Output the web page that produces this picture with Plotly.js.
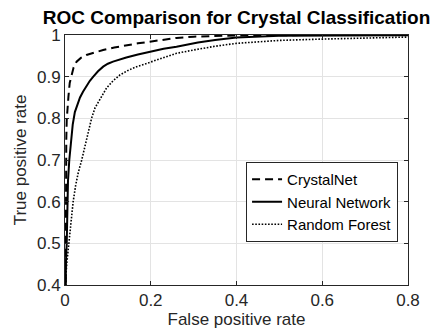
<!DOCTYPE html>
<html>
<head>
<meta charset="utf-8">
<script src="https://cdn.plot.ly/plotly-3.0.1.min.js"></script>
<style>html,body{margin:0;padding:0;background:#fff;}#chart{width:435px;height:329px;}</style>
</head>
<body>
<div id="chart"></div>
<script>
// CrystalNet
var crystalFpr = [0, 0.001, 0.002, 0.003, 0.004, 0.006, 0.008, 0.011, 0.0155, 0.02, 0.027, 0.037, 0.05, 0.068, 0.089, 0.115, 0.143, 0.17, 0.198, 0.23, 0.26, 0.3, 0.4, 0.6, 1.0];
var crystalTpr = [0, 0.5, 0.65, 0.75, 0.796, 0.83, 0.852, 0.885, 0.908, 0.922, 0.936, 0.945, 0.952, 0.958, 0.964, 0.97, 0.976, 0.98, 0.984, 0.989, 0.993, 0.996, 0.999, 1.0, 1.0];
// Neural Network
var nnFpr = [0, 0.002, 0.004, 0.005, 0.007, 0.01, 0.014, 0.018, 0.023, 0.029, 0.035, 0.042, 0.05, 0.058, 0.066, 0.077, 0.089, 0.1, 0.112, 0.127, 0.143, 0.17, 0.198, 0.23, 0.26, 0.31, 0.35, 0.4, 0.5, 0.7, 1.0];
var nnTpr = [0, 0.45, 0.5, 0.6, 0.65, 0.7, 0.75, 0.785, 0.815, 0.835, 0.85, 0.864, 0.878, 0.89, 0.9, 0.913, 0.924, 0.931, 0.936, 0.941, 0.946, 0.953, 0.96, 0.967, 0.972, 0.982, 0.988, 0.994, 0.998, 0.999, 1.0];
// Random Forest
var rfFpr = [0, 0.002, 0.004, 0.007, 0.01, 0.014, 0.019, 0.025, 0.031, 0.039, 0.048, 0.055, 0.062, 0.07, 0.081, 0.097, 0.112, 0.128, 0.147, 0.167, 0.185, 0.205, 0.23, 0.26, 0.3, 0.35, 0.4, 0.5, 0.593, 0.7, 0.786, 0.9, 1.0];
var rfTpr = [0, 0.42, 0.45, 0.48, 0.5, 0.55, 0.6, 0.64, 0.67, 0.7, 0.74, 0.77, 0.8, 0.825, 0.846, 0.873, 0.89, 0.904, 0.915, 0.924, 0.93, 0.937, 0.947, 0.956, 0.964, 0.973, 0.98, 0.987, 0.99, 0.994, 0.997, 0.999, 1.0];

var seriesNames = ['CrystalNet', 'Neural Network', 'Random Forest'];
var xTicks = [0, 0.2, 0.4, 0.6, 0.8];
var xTickText = ['0', '0.2', '0.4', '0.6', '0.8'];
var yTicks = [0.4, 0.5, 0.6, 0.7, 0.8, 0.9, 1];
var yTickText = ['0.4', '0.5', '0.6', '0.7', '0.8', '0.9', '1'];

var FONT = 'Liberation Sans, Arial, Helvetica, sans-serif';

var traces = [
  {x: crystalFpr, y: crystalTpr, name: seriesNames[0], mode: 'lines',
   line: {color: '#000', width: 2, dash: '8px,5px'}},
  {x: nnFpr, y: nnTpr, name: seriesNames[1], mode: 'lines',
   line: {color: '#000', width: 2}},
  {x: rfFpr, y: rfTpr, name: seriesNames[2], mode: 'lines',
   line: {color: '#000', width: 1.6, dash: '1.6px,1.6px'}}
];

var axisCommon = {
  showline: true, linecolor: '#262626', linewidth: 1, mirror: 'allticks',
  ticks: 'inside', ticklen: 4, tickcolor: '#262626', tickwidth: 1,
  showgrid: true, gridcolor: '#e3e3e3', gridwidth: 1, zeroline: false,
  tickfont: {family: FONT, size: 17, color: '#262626'}
};

var layout = {
  width: 435, height: 329,
  margin: {l: 65, r: 27, t: 35, b: 44},
  paper_bgcolor: '#fff', plot_bgcolor: '#fff',
  title: {text: '<b>ROC Comparison for Crystal Classification</b>', x: 0.5, xref: 'paper',
          y: 0.948, yanchor: 'middle', font: {family: FONT, size: 19, color: '#000'}},
  xaxis: Object.assign({}, axisCommon, {
    range: [0, 0.8], tickvals: xTicks, ticktext: xTickText,
    title: {text: 'False positive rate', standoff: 1, font: {family: FONT, size: 17, color: '#262626'}}
  }),
  yaxis: Object.assign({}, axisCommon, {
    range: [0.4, 1], tickvals: yTicks, ticktext: yTickText,
    title: {text: 'True positive rate', standoff: 6, font: {family: FONT, size: 17, color: '#262626'}}
  }),
  showlegend: true,
  legend: {x: 0.971, y: 0.172, xanchor: 'right', yanchor: 'bottom',
           bgcolor: '#fff', bordercolor: '#262626', borderwidth: 1,
           font: {family: FONT, size: 15, color: '#000'}, tracegroupgap: 0}
};

Plotly.newPlot('chart', traces, layout, {displayModeBar: false, staticPlot: true});
</script>
</body>
</html>
